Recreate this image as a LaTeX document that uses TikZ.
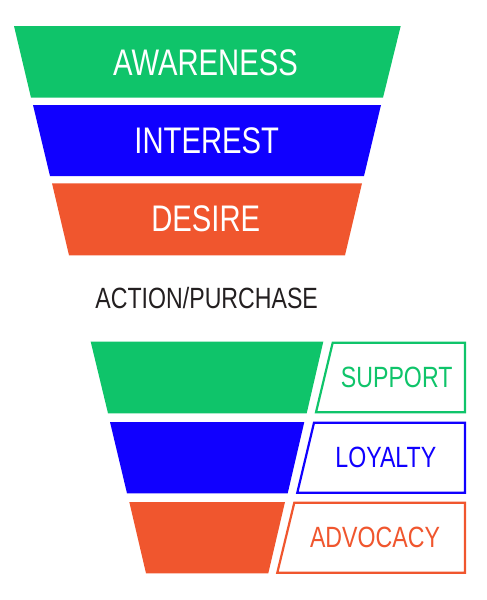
\documentclass[tikz,border=0pt]{standalone}
\usepackage{fontspec}
\setmainfont{Liberation Sans}[FakeStretch=0.79]
\definecolor{fgreen}{HTML}{0FC46A}
\definecolor{fblue}{HTML}{1000FF}
\definecolor{forange}{HTML}{F0562E}
\definecolor{fgray}{HTML}{231F20}
\begin{document}
\begin{tikzpicture}[x=1pt,y=-1pt,
  bigtext/.style={text=white,font=\fontsize{37}{37}\selectfont,inner sep=0pt,anchor=center},
  smalltext/.style={font=\fontsize{29.3}{29.3}\selectfont,inner sep=0pt,anchor=center},
  outbox/.style={line width=2.2pt,fill=white,line join=miter}]
\useasboundingbox (0,0) rectangle (487,600);
% upper funnel
\fill[fgreen] (14,26) -- (400.7,26) -- (383,97.7) -- (31,97.7) -- cycle;
\fill[fblue] (33,105) -- (381,105) -- (364,176) -- (50,176) -- cycle;
\fill[forange] (52,183.3) -- (362,183.3) -- (345,255.3) -- (69,255.3) -- cycle;
\node[bigtext] (aw) at (205.5,62.7) {AWARENESS};
\node[bigtext] (in) at (206.7,141) {INTEREST};
\node[bigtext] (de) at (205.7,219) {DESIRE};
% action
\node[smalltext,text=fgray] (ac) at (206.7,298) {ACTION/PURCHASE};
% lower funnel
\fill[fgreen] (90.7,341.7) -- (323.3,341.7) -- (306.7,413.3) -- (108,413.3) -- cycle;
\fill[fblue] (110,422) -- (304.3,422) -- (287.7,493.3) -- (127,493.3) -- cycle;
\fill[forange] (129.3,502) -- (285,502) -- (268.3,573.3) -- (146,573.3) -- cycle;
% outline boxes
\path[outbox,draw=fgreen] (332.7,342.7) -- (465,342.7) -- (465,412.3) -- (316,412.3) -- cycle;
\path[outbox,draw=fblue] (314,422.7) -- (465,422.7) -- (465,492.7) -- (297.3,492.7) -- cycle;
\path[outbox,draw=forange] (294.3,502.7) -- (465,502.7) -- (465,572.7) -- (277.3,572.7) -- cycle;
\node[smalltext,text=fgreen] (su) at (396.7,377.8) {SUPPORT};
\node[smalltext,text=fblue] (lo) at (385.8,457.8) {LOYALTY};
\node[smalltext,text=forange] (ad) at (375,537.8) {ADVOCACY};
\end{tikzpicture}
\end{document}
